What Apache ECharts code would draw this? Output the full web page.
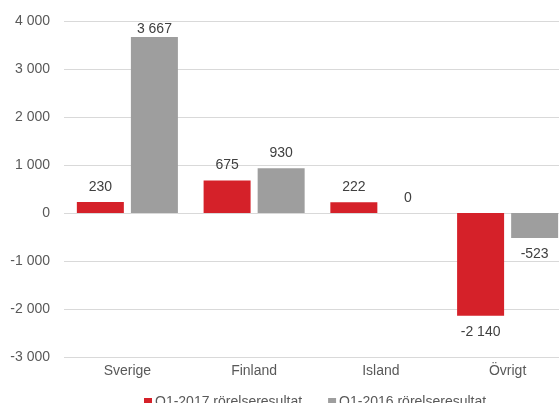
<!DOCTYPE html>
<html><head><meta charset="utf-8">
<script src="https://cdn.jsdelivr.net/npm/echarts@6/dist/echarts.min.js"></script>
<style>html,body{margin:0;padding:0;background:#fff}#c{width:559px;height:403px}</style>
</head><body><div id="c"></div>
<script>
var categories = ['Sverige', 'Finland', 'Island', 'Övrigt'];
var q12017 = [230, 675, 222, -2140];
var q12016 = [3667, 930, 0, -523];
var seriesNames = ['Q1-2017 rörelseresultat', 'Q1-2016 rörelseresultat'];
var yMin = -3000, yMax = 4000, yStep = 1000;

function fmt(v) {
  var s = String(Math.abs(v)).replace(/\B(?=(\d{3})+(?!\d))/g, ' ');
  return (v < 0 ? '-' : '') + s;
}
var font = 'Liberation Sans, Arial, Helvetica, sans-serif';
function labelled(values) {
  return values.map(function (v) {
    var near = v > yMax - 500;
    return { value: v, label: { position: v < 0 ? 'bottom' : 'top', distance: near ? 1 : (v < 0 ? 9 : 8) } };
  });
}
var labelStyle = { show: true, color: '#404040', fontSize: 14, fontFamily: font,
  formatter: function (p) { return fmt(p.value); } };
var chart = echarts.init(document.getElementById('c'));
chart.setOption({
  animation: false,
  textStyle: { fontFamily: font },
  grid: { left: 64, width: 507, top: 21, height: 336, containLabel: false, outerBoundsMode: 'none' },
  legend: {
    left: 139, top: 390, itemWidth: 8, itemHeight: 8, itemGap: 26,
    textStyle: { color: '#595959', fontSize: 14, fontFamily: font, padding: [0, 0, 0, -2] },
    data: seriesNames.map(function (n) { return { name: n, icon: 'rect' }; })
  },
  xAxis: {
    type: 'category', data: categories,
    axisLine: { show: false }, axisTick: { show: false },
    axisLabel: { color: '#595959', fontSize: 14, fontFamily: font, margin: 7 }
  },
  yAxis: {
    type: 'value', min: yMin, max: yMax, interval: yStep,
    axisLine: { show: false }, axisTick: { show: false },
    axisLabel: { color: '#595959', fontSize: 14, fontFamily: font, margin: 14, formatter: fmt },
    splitLine: { lineStyle: { color: '#d9d9d9', width: 1 } }
  },
  series: [
    {
      name: seriesNames[0], type: 'bar', data: labelled(q12017), barWidth: 47, barGap: '15%',
      itemStyle: { color: '#d52129' }, label: labelStyle
    },
    {
      name: seriesNames[1], type: 'bar', data: labelled(q12016), barWidth: 47,
      itemStyle: { color: '#9e9e9e' }, label: labelStyle
    }
  ]
});
</script></body></html>
